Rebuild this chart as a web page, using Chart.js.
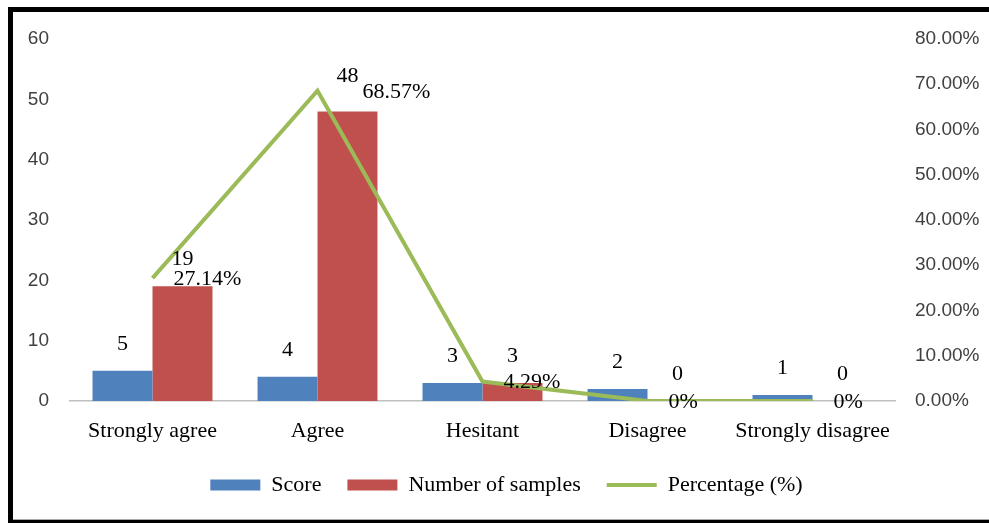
<!DOCTYPE html>
<html>
<head>
<meta charset="utf-8">
<script src="https://cdn.jsdelivr.net/npm/chart.js@4"></script>
<style>
  html, body { margin: 0; padding: 0; background: #fff; overflow: hidden; width: 989px; height: 523px; }
  #frame {
    position: absolute; left: 8px; top: 7px; width: 1000px; height: 508px;
    border-top: 5px solid #000; border-left: 5px solid #000; border-bottom: 3px solid #000;
    box-shadow: inset 0 -1px 0 #aaa;
  }
  #chart { position: absolute; left: 0; top: 0; }
</style>
</head>
<body>
<div id="frame"></div>
<canvas id="chart" width="989" height="523"></canvas>
<script>
const categories = ['Strongly agree', 'Agree', 'Hesitant', 'Disagree', 'Strongly disagree'];
const scores = [5, 4, 3, 2, 1];
const samples = [19, 48, 3, 0, 0];
const percentages = [27.14, 68.57, 4.29, 0, 0];

const serif = '"Liberation Serif", "Times New Roman", serif';
const sans = '"Liberation Sans", Arial, sans-serif';

const pctText = v => (v === 0 ? '0%' : v.toFixed(2) + '%');

// numbers above the bars and to the right of the line points
const valueLabels = {
  id: 'valueLabels',
  afterDatasetsDraw(chart) {
    const ctx = chart.ctx;
    ctx.save();
    ctx.font = '22px ' + serif;
    ctx.fillStyle = '#000';
    ctx.textBaseline = 'middle';
    const barMetas = [0, 1].map(i => chart.getDatasetMeta(i));
    const lineMeta = chart.getDatasetMeta(2);

    categories.forEach((c, j) => {
      const pt = lineMeta.data[j];
      const line = { text: pctText(percentages[j]), x: pt.x + 21, y: pt.y + 1 };
      const bars = barMetas.map((m, k) => {
        const el = m.data[j];
        const text = String((k === 0 ? scores : samples)[j]);
        return { text, x: el.x, y: el.y - 27, w: ctx.measureText(text).width };
      });
      // keep the samples label clear of the percentage label
      const b = bars[1];
      if (Math.abs(b.y - line.y) < 14 && b.x + b.w / 2 > line.x) {
        line.x = b.x + b.w / 2 + 4;
        b.y -= 8;
      }
      ctx.textAlign = 'center';
      bars.forEach(l => ctx.fillText(l.text, l.x, l.y));
      ctx.textAlign = 'left';
      ctx.fillText(line.text, line.x, line.y);
    });
    ctx.restore();
  }
};

new Chart(document.getElementById('chart'), {
  type: 'bar',
  data: {
    labels: categories,
    datasets: [
      {
        label: 'Score',
        data: scores,
        backgroundColor: '#4F81BD',
        yAxisID: 'y',
        order: 1,
        pointStyle: 'rect'
      },
      {
        label: 'Number of samples',
        data: samples,
        backgroundColor: '#C0504D',
        yAxisID: 'y',
        order: 1,
        pointStyle: 'rect'
      },
      {
        type: 'line',
        label: 'Percentage (%)',
        data: percentages,
        borderColor: '#9BBB59',
        backgroundColor: '#9BBB59',
        borderWidth: 4,
        pointRadius: 0,
        tension: 0,
        yAxisID: 'y1',
        order: 0,
        pointStyle: 'line'
      }
    ]
  },
  options: {
    responsive: false,
    animation: false,
    layout: { padding: { top: 39, bottom: 17, left: 24, right: 0 } },
    datasets: {
      bar: { categoryPercentage: 0.727, barPercentage: 1 }
    },
    scales: {
      x: {
        grid: { display: false, drawTicks: false },
        border: { display: true, color: '#bfbfbf', width: 1.5 },
        ticks: { color: '#000', font: { family: serif, size: 22 }, padding: 17, maxRotation: 0 },
        afterFit(scale) { scale.height = 47; }
      },
      y: {
        position: 'left',
        min: 0,
        max: 60,
        grid: { display: false, drawTicks: false },
        border: { display: false },
        ticks: { stepSize: 10, color: '#404040', font: { family: sans, size: 19 }, padding: 21 },
        afterFit(scale) { scale.width = 46; }
      },
      y1: {
        position: 'right',
        min: 0,
        max: 80,
        grid: { display: false, drawTicks: false },
        border: { display: false },
        ticks: {
          stepSize: 10,
          color: '#404040',
          font: { family: sans, size: 19 },
          padding: 20,
          callback: v => v.toFixed(2) + '%'
        },
        afterFit(scale) { scale.width = 94; }
      }
    },
    plugins: {
      legend: {
        position: 'bottom',
        labels: {
          usePointStyle: true,
          pointStyleWidth: 50,
          boxHeight: 11,
          padding: 26,
          color: '#000',
          font: { family: serif, size: 22 },
          sort: (a, b) => a.datasetIndex - b.datasetIndex
        }
      },
      tooltip: { enabled: false }
    }
  },
  plugins: [valueLabels]
});
</script>
</body>
</html>
